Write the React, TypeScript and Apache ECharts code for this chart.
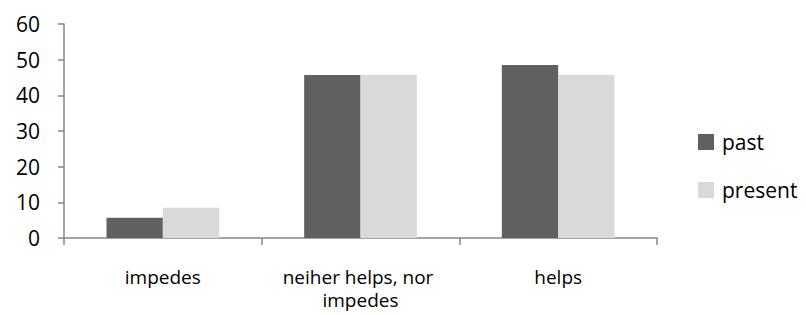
import React, { useEffect, useRef } from "react";
import * as echarts from "echarts";

const categories = ["impedes", "neiher helps, nor impedes", "helps"];
const pastValues = [5.7, 45.7, 48.5];
const presentValues = [8.5, 45.7, 45.7];
const seriesNames = ["past", "present"];

export default function App() {
  const ref = useRef<HTMLDivElement>(null);
  useEffect(() => {
    if (!ref.current) return;
    const chart = echarts.init(ref.current, undefined, { renderer: "svg" });
    const font = "Open Sans";
    chart.setOption({
      animation: false,
      textStyle: { fontFamily: font },
      grid: { left: 64, right: 149, top: 24, bottom: 77, containLabel: false },
      legend: {
        orient: "vertical",
        left: 698,
        top: 131,
        padding: 0,
        itemWidth: 16,
        itemHeight: 16,
        itemGap: 26,
        icon: "rect",
        textStyle: { fontSize: 21, lineHeight: 22, color: "#000", fontFamily: font, padding: [0, 0, 0, 3] },
        data: seriesNames,
      },
      xAxis: {
        type: "category",
        data: categories,
        axisLine: { lineStyle: { color: "#868686", width: 1.5 } },
        axisTick: { show: true, length: 7, lineStyle: { color: "#868686", width: 1.5 } },
        axisLabel: {
          fontSize: 19,
          color: "#000",
          fontFamily: font,
          margin: 27,
          width: 190,
          overflow: "break",
          lineHeight: 23,
          interval: 0,
        },
      },
      yAxis: {
        type: "value",
        min: 0,
        max: 60,
        interval: 10,
        splitLine: { show: false },
        axisLine: { show: true, lineStyle: { color: "#868686", width: 1.5 } },
        axisTick: { show: true, length: 6, lineStyle: { color: "#868686", width: 1.5 } },
        axisLabel: { fontSize: 21, color: "#000", fontFamily: font, margin: 24 },
      },
      series: [
        {
          name: seriesNames[0],
          type: "bar",
          data: pastValues,
          barGap: "0%",
          barCategoryGap: "43%",
          itemStyle: { color: "#606060" },
        },
        {
          name: seriesNames[1],
          type: "bar",
          data: presentValues,
          barGap: "0%",
          barCategoryGap: "43%",
          itemStyle: { color: "#d9d9d9" },
        },
      ],
    });
    return () => chart.dispose();
  }, []);
  return <div ref={ref} style={{ width: 806, height: 315, position: "absolute", left: 0, top: 0 }} />;
}
